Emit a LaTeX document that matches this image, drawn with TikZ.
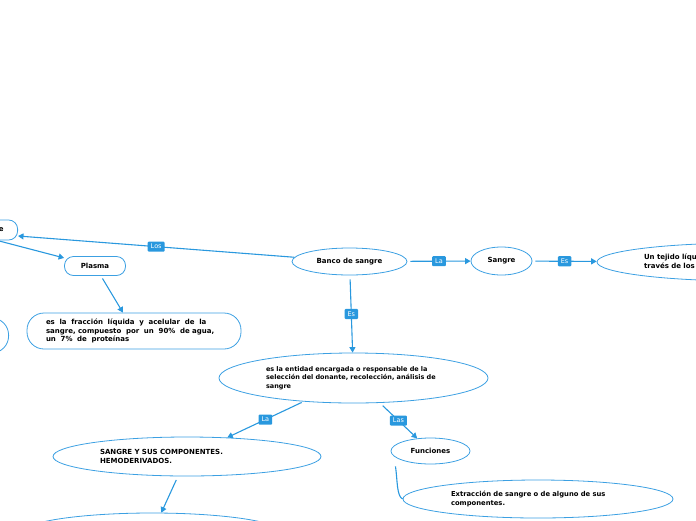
\documentclass[tikz,border=0pt]{standalone}
\usepackage{fontspec}
\setmainfont{DejaVu Sans}
\usetikzlibrary{shapes.geometric,arrows.meta,calc}
\definecolor{mblue}{RGB}{41,152,222}
\definecolor{eblue}{RGB}{60,160,226}
\begin{document}
\begin{tikzpicture}[x=1pt,y=-1pt,
  every node/.style={font=\bfseries\fontsize{7}{9}\selectfont, text=black},
  ell/.style={ellipse, draw=eblue, line width=0.8pt, inner sep=0pt},
  rbox/.style={rectangle, rounded corners=9pt, draw=eblue, line width=0.8pt, inner sep=0pt},
  conn/.style={draw=mblue, line width=1.1pt, -{Triangle[length=5.5pt,width=6pt]}},
  plainconn/.style={draw=mblue, line width=1.1pt},
  lbl/.style={fill=mblue, text=white, font=\fontsize{6.5}{7.5}\selectfont, rounded corners=1pt, inner xsep=3pt, inner ysep=2.6pt},
  desc/.style={font=\bfseries\fontsize{6.8}{8.6}\selectfont}]
\useasboundingbox (0,0) rectangle (696,520);

% nodes
\node[rbox, anchor=east, minimum height=20pt, inner xsep=14pt] (comp) at (18,230) {Componentes de la sangre};
\node[rbox, rounded corners=17pt, minimum width=98pt, minimum height=35pt, anchor=east] (lnode) at (9,335.5) {};
\node[rbox, minimum width=61pt, minimum height=19pt] (plasma) at (95,266) {Plasma};
\node[rbox, rounded corners=17pt, minimum width=214pt, minimum height=36pt, text width=176pt, align=left, font=\bfseries\fontsize{7}{8.6}\selectfont] (pdesc) at (134,331) {es\ \ la\ \ fracción\ \ líquida\ \ y\ \ acelular\ \ de\ \ la\\ sangre, compuesto\ \ por\ \ un\ \ 90\%\ \ de agua,\\ un\ \ 7\%\ \ de\ \ proteínas};
\node[ell, minimum width=115pt, minimum height=27pt] (banco) at (349.5,261.5) {Banco de sangre};
\node[ell, minimum width=61pt, minimum height=28pt] (sangre) at (501.5,261) {Sangre};
\node[ell, minimum width=300pt, minimum height=38pt, text width=206pt, align=left] (tejido) at (747,262) {Un tejido líquido que circula a\\través de los vasos sanguíneos};
\node[ell, minimum width=269pt, minimum height=50pt, text width=175pt, align=left, font=\bfseries\fontsize{6.5}{8.6}\selectfont] (edesc) at (353.5,378) {es la entidad encargada o responsable de la\\selección del donante, recolección, análisis de\\sangre};
\node[ell, minimum width=268pt, minimum height=39pt, text width=174pt, align=left] (sycomp) at (187,456.5) {SANGRE Y SUS COMPONENTES.\\HEMODERIVADOS.};
\node[ell, minimum width=79pt, minimum height=26pt] (func) at (430.5,451) {Funciones};
\node[ell, minimum width=270pt, minimum height=38pt, text width=174pt, align=left, desc] (extr) at (538,499) {Extracción de sangre o de alguno de sus\\componentes.};
\node[ell, minimum width=262pt, minimum height=40pt] (bottom) at (152,533) {};

\coordinate (c1) at ($(comp.south east)+(-21,0)$);
\coordinate (fstart) at ($(func.south)+(-35,2)$);

% connectors
\draw[conn] (banco) -- node[lbl]{Los} ([yshift=-6pt]comp.east);
\draw[conn] (c1) -- (plasma);
\draw[conn, shorten <=3pt] (plasma) -- (pdesc);
\draw[conn, shorten <=3pt] (banco) -- node[lbl]{La} (sangre);
\draw[conn, shorten <=3pt] (sangre) -- node[lbl]{Es} (tejido);
\draw[conn, shorten <=4pt] (banco) -- node[lbl]{Es} (edesc);
\draw[conn, shorten <=2pt] (edesc) -- node[lbl]{La} (sycomp);
\draw[conn, shorten <=4pt] (edesc) -- node[lbl]{Las} (func);
\draw[conn, shorten <=4pt] (sycomp) -- (bottom);
\draw[plainconn] (fstart) .. controls ($(fstart)+(2,14)$) and ($(extr.west)+(-6,-3)$) .. (extr.west);
\end{tikzpicture}
\end{document}
